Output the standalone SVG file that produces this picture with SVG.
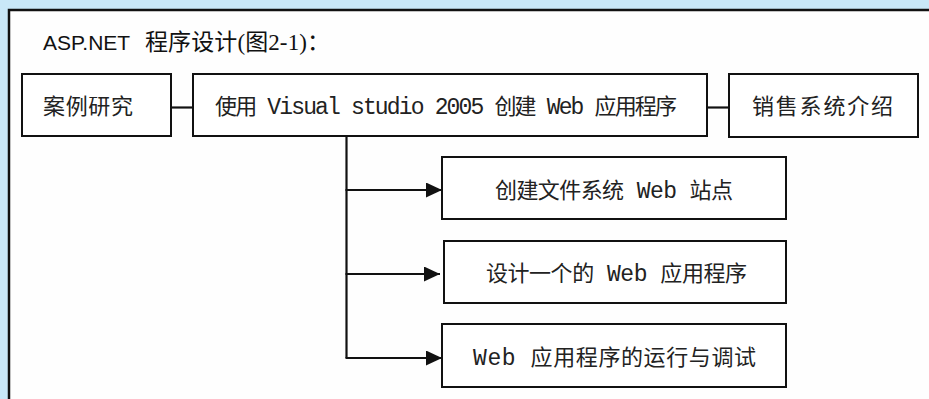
<svg xmlns="http://www.w3.org/2000/svg" width="929" height="399" viewBox="0 0 929 399">
<style>
.box{fill:#FFFFFF;stroke:#111111;stroke-width:2}
.conn{stroke:#111111;stroke-width:2.2;fill:none}
.lbl{font-family:"Liberation Mono","Noto Sans CJK SC",monospace;font-size:22px;fill:#222222}
.lat{font-size:23px}
.title{font-family:"Liberation Serif","Noto Sans CJK SC",serif;font-size:23px;fill:#111111}
</style>
<defs>
<marker id="ah" markerUnits="userSpaceOnUse" markerWidth="18" markerHeight="16" refX="16" refY="7.5" orient="auto">
<path d="M0,0 L16,7.5 L0,15 Z" fill="#111111"/>
</marker>
</defs>
<rect x="0" y="0" width="929" height="399" fill="#C9E8F8"/>
<rect x="9" y="10" width="940" height="410" fill="#FEFEFE" stroke="#111111" stroke-width="2.5"/>
<g id="title">
<text x="43" y="50" style="font-family:'Liberation Sans',Arial,sans-serif;font-size:21px;fill:#111111">ASP.NET</text>
<text class="title" x="145" y="50" textLength="185" lengthAdjust="spacing">程序设计(图2-1)：</text>
</g>
<g id="connectors">
<line class="conn" x1="171" y1="107.5" x2="193" y2="107.5"/>
<line class="conn" x1="707" y1="107.5" x2="729" y2="107.5"/>
<line class="conn" x1="346.5" y1="136" x2="346.5" y2="358"/>
<line class="conn" x1="345.5" y1="190" x2="442" y2="190" marker-end="url(#ah)"/>
<line class="conn" x1="345.5" y1="274" x2="440" y2="274" marker-end="url(#ah)"/>
<line class="conn" x1="345.5" y1="358" x2="442" y2="358" marker-end="url(#ah)"/>
</g>
<g id="node-case">
<rect class="box" x="22" y="74" width="149" height="62"/>
<text class="lbl" x="43" y="113.5" textLength="90" lengthAdjust="spacing">案例研究</text>
</g>
<g id="node-vs">
<rect class="box" x="193" y="74" width="514" height="62"/>
<text class="lbl" x="215" y="113.5" textLength="462" lengthAdjust="spacing">使用<tspan class="lat"> Visual studio 2005 </tspan>创建<tspan class="lat"> Web </tspan>应用程序</text>
</g>
<g id="node-sales">
<rect class="box" x="729" y="74" width="189" height="63"/>
<text class="lbl" x="752" y="114" textLength="141" lengthAdjust="spacing">销售系统介绍</text>
</g>
<g id="node-site">
<rect class="box" x="442" y="157" width="344" height="62"/>
<text class="lbl" x="495" y="197.5" textLength="238" lengthAdjust="spacing">创建文件系统<tspan class="lat"> Web </tspan>站点</text>
</g>
<g id="node-design">
<rect class="box" x="444" y="241" width="342" height="62"/>
<text class="lbl" x="486" y="281" textLength="261" lengthAdjust="spacing">设计一个的<tspan class="lat"> Web </tspan>应用程序</text>
</g>
<g id="node-debug">
<rect class="box" x="442" y="324" width="344" height="63"/>
<text class="lbl" x="473" y="364.5" textLength="283" lengthAdjust="spacing"><tspan class="lat">Web </tspan>应用程序的运行与调试</text>
</g>
</svg>
